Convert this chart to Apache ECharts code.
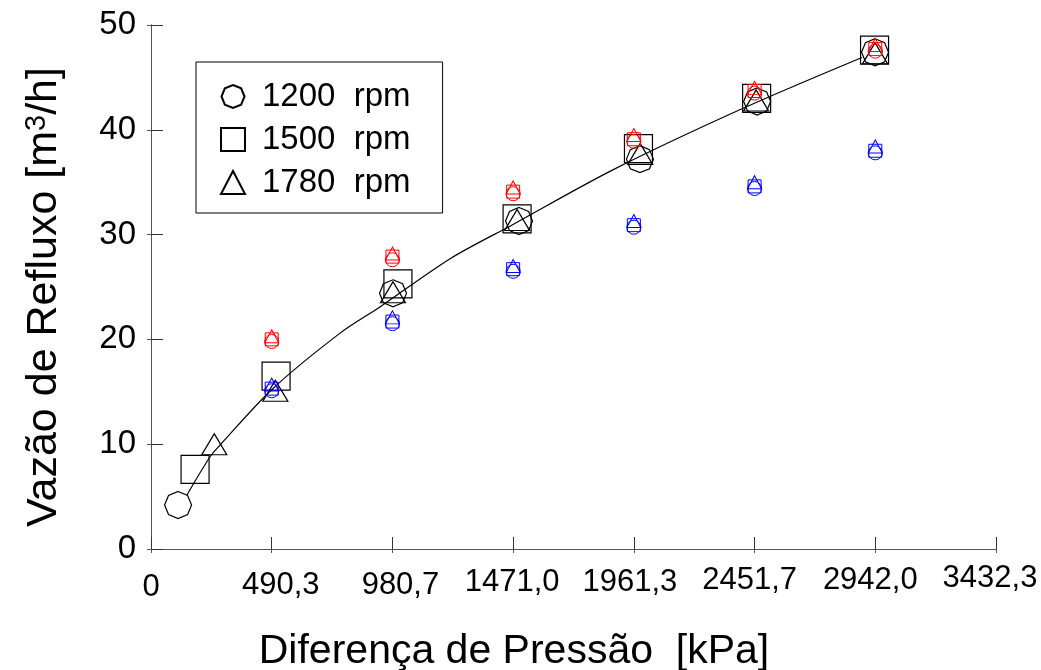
<!DOCTYPE html>
<html>
<head>
<meta charset="utf-8">
<script src="https://cdn.jsdelivr.net/npm/echarts@6/dist/echarts.min.js"></script>
<style>
  html, body { margin: 0; padding: 0; background: #fff; }
  #chart { width: 1041px; height: 670px; }
</style>
</head>
<body>
<div id="chart"></div>
<script>
// Tick labels of the pressure axis (kPa, comma decimals)
const pressureTicks = ['0', '490,3', '980,7', '1471,0', '1961,3', '2451,7', '2942,0', '3432,3'];
const pressureMax = 3432.3;
const flowTicks = [0, 10, 20, 30, 40, 50];

// Large black markers, one array pair per rotation
const rpm1200X = [110, 983, 1495, 1986, 2462, 2941];
const rpm1200Y = [4.2, 24.4, 31.3, 37.2, 42.7, 47.4];
const rpm1500X = [179, 508, 1003, 1487, 1980, 2460, 2939];
const rpm1500Y = [7.6, 16.5, 25.3, 31.5, 38.2, 43.0, 47.6];
const rpm1780X = [257, 505, 983, 1487, 1987, 2458, 2941];
const rpm1780Y = [10.0, 15.1, 24.5, 31.4, 37.7, 42.8, 47.3];

// Small markers placed at the tick pressures
const smallX = [490.3, 980.7, 1471.0, 1961.3, 2451.7, 2942.0];
const redCircleY   = [19.8, 27.6, 33.9, 38.9, 43.5, 47.5];
const redSquareY   = [20.0, 27.9, 34.1, 39.1, 43.7, 47.7];
const redTriangleY = [20.3, 28.2, 34.5, 39.5, 44.0, 48.1];
const blueCircleY   = [15.1, 21.5, 26.5, 30.7, 34.4, 37.8];
const blueSquareY   = [15.3, 21.7, 26.7, 30.9, 34.6, 38.0];
const blueTriangleY = [15.7, 22.1, 27.0, 31.3, 35.0, 38.4];

// Fitted curve through the measurements
const curveX = [146, 240, 280, 490, 768, 930, 1215, 1465, 1878, 2405, 2888];
const curveY = [5.15, 8.8, 9.9, 15.2, 20.6, 23.1, 27.7, 30.9, 36.2, 42.05, 46.9];

const pairs = (xs, ys) => xs.map((x, i) => [x, ys[i]]);
const octagon = 'path://M50,0 L85.36,14.64 L100,50 L85.36,85.36 L50,100 L14.64,85.36 L0,50 L14.64,14.64 Z';
const sans = '"Liberation Sans", Arial, Helvetica, sans-serif';
const step = pressureMax / 7;

// Each pressure label sits a little off its tick: [shift right px, drop px]
const labelNudge = [[0, 9], [9, 7], [8, 7], [-1, 4], [-4, 4], [-5, 2], [-5, 2], [-6, 0]];
const labelRich = {};
labelNudge.forEach(([dx, dy], i) => {
  labelRich['p' + i] = {
    fontSize: 31, fontFamily: sans, color: '#000',
    padding: [dy, dx < 0 ? -2 * dx : 0, 0, dx > 0 ? 2 * dx : 0]
  };
});

const hollow = (color, width) => ({ color: 'rgba(0,0,0,0)', borderColor: color, borderWidth: width, opacity: 1 });

function smallSeries(name, ys, symbol, size, color) {
  return {
    name, type: 'scatter', data: pairs(smallX, ys), symbol, symbolSize: size,
    itemStyle: hollow(color, 1), emphasis: { disabled: true }, z: 4
  };
}

const chart = echarts.init(document.getElementById('chart'));
chart.setOption({
  animation: false,
  backgroundColor: '#ffffff',
  grid: { left: 151, right: 45, top: 25, bottom: 121, containLabel: false, outerBoundsMode: 'none' },
  xAxis: [{
    type: 'value', min: 0, max: pressureMax, interval: step,
    axisLine: { lineStyle: { color: '#333', width: 1 } },
    axisTick: { inside: true, length: 12, lineStyle: { color: '#333' } },
    splitLine: { show: false },
    axisLabel: {
      margin: 14, fontSize: 31, fontFamily: sans, color: '#000',
      formatter: v => {
        const i = Math.round(v / step);
        return '{p' + i + '|' + pressureTicks[i] + '}';
      },
      rich: labelRich
    }
  }, {
    type: 'value', position: 'top', min: 0, max: pressureMax, interval: step,
    axisLine: { show: true, lineStyle: { color: '#555' } },
    axisTick: { inside: true, length: 4, lineStyle: { color: '#555' } },
    axisLabel: { show: false }, splitLine: { show: false }
  }],
  yAxis: [{
    type: 'value', min: flowTicks[0], max: flowTicks[flowTicks.length - 1], interval: 10,
    axisLine: { show: true, lineStyle: { color: '#555', width: 1 } },
    axisTick: { show: true, inside: true, length: 12, lineStyle: { color: '#333' } },
    splitLine: { show: false },
    axisLabel: { margin: 15, fontSize: 33, fontFamily: sans, color: '#000' }
  }, {
    type: 'value', position: 'right', min: 0, max: 50, interval: 10,
    axisLine: { show: true, lineStyle: { color: '#555' } },
    axisTick: { show: true, inside: true, length: 4, lineStyle: { color: '#555' } },
    axisLabel: { show: false }, splitLine: { show: false }
  }],
  legend: {
    data: ['1200 rpm', '1500 rpm', '1780 rpm'],
    orient: 'vertical', left: 196, top: 62,
    padding: [18, 32, 14, 24], itemGap: 10,
    itemWidth: 24, itemHeight: 23,
    borderColor: '#000', borderWidth: 1, backgroundColor: '#fff',
    formatter: n => n.replace(' ', '  '),
    textStyle: { fontSize: 33, fontFamily: sans, color: '#000', padding: [0, 0, 0, 12] }
  },
  graphic: [{
    type: 'text', x: 44, y: 297, rotation: Math.PI / 2,
    style: {
      text: '{t|Vazão de Refluxo [m}{s|3}{t|/h]}',
      rich: {
        t: { fontSize: 43, fontFamily: sans, fill: '#000', color: '#000' },
        s: { fontSize: 29, fontFamily: sans, fill: '#000', color: '#000', verticalAlign: 'top' }
      },
      align: 'center', verticalAlign: 'middle', textAlign: 'center', textVerticalAlign: 'middle'
    }
  }, {
    type: 'text', x: 514, y: 652,
    style: {
      text: 'Diferença de Pressão  [kPa]', font: '41px ' + sans, fill: '#000',
      align: 'center', verticalAlign: 'middle', textAlign: 'center', textVerticalAlign: 'middle'
    }
  }],
  series: [
    {
      name: 'ajuste', type: 'line', data: pairs(curveX, curveY), smooth: 0.3,
      showSymbol: false, lineStyle: { color: '#000', width: 1.2 }, emphasis: { disabled: true }, z: 2
    },
    {
      name: '1200 rpm', type: 'scatter', data: pairs(rpm1200X, rpm1200Y),
      symbol: octagon, symbolSize: 27, itemStyle: hollow('#000', 1.2), emphasis: { disabled: true }, z: 3
    },
    {
      name: '1500 rpm', type: 'scatter', data: pairs(rpm1500X, rpm1500Y),
      symbol: 'rect', symbolSize: 28, itemStyle: hollow('#000', 1.2), emphasis: { disabled: true }, z: 3
    },
    {
      name: '1780 rpm', type: 'scatter', data: pairs(rpm1780X, rpm1780Y),
      symbol: 'triangle', symbolSize: [25, 21], itemStyle: hollow('#000', 1.2), emphasis: { disabled: true }, z: 3
    },
    smallSeries('vermelho 1200', redCircleY, 'circle', 14, '#ff0000'),
    smallSeries('vermelho 1500', redSquareY, 'rect', 13, '#ff0000'),
    smallSeries('vermelho 1780', redTriangleY, 'triangle', [14, 13], '#ff0000'),
    smallSeries('azul 1200', blueCircleY, 'circle', 14, '#0000ff'),
    smallSeries('azul 1500', blueSquareY, 'rect', 13, '#0000ff'),
    smallSeries('azul 1780', blueTriangleY, 'triangle', [14, 13], '#0000ff')
  ]
});
</script>
</body>
</html>
